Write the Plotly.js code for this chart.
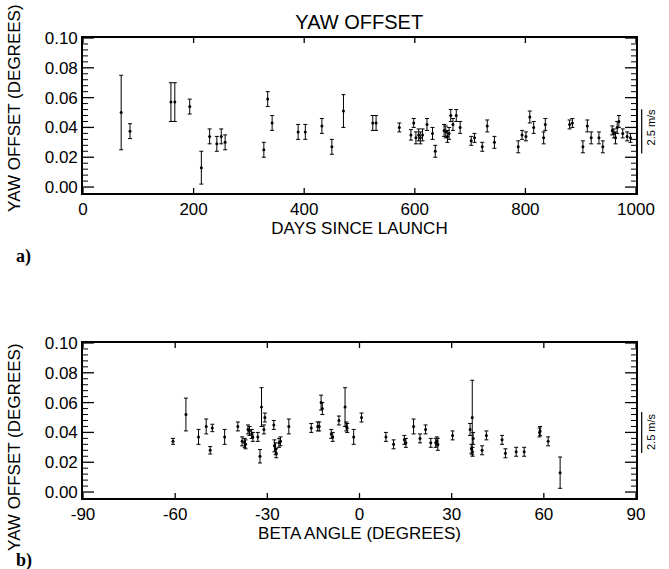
<!DOCTYPE html>
<html>
<head>
<meta charset="utf-8">
<script src="https://cdn.plot.ly/plotly-3.0.1.min.js"></script>
<style>html,body{margin:0;padding:0;background:#fff;}#chart{width:669px;height:569px;}</style>
</head>
<body>
<div id="chart"></div>
<script>
// Panel a) yaw offset vs days since launch
const daysA = [69,85,159,166,193,214,229,242,250,257,327,334,342,389,402,432,450,471,524,530,
  572,593,598,602,607,610,614,622,632,637,653,656,659,662,665,669,675,682,702,708,722,731,744,
  787,794,801,808,815,833,836,880,885,904,912,919,933,940,957,960,963,966,969,976,984,990];
const yawA = [0.050,0.0375,0.057,0.057,0.054,0.013,0.034,0.029,0.034,0.030,0.025,0.059,0.043,0.037,0.037,0.041,0.027,0.051,0.043,0.043,
  0.040,0.035,0.043,0.033,0.035,0.033,0.035,0.042,0.036,0.024,0.038,0.037,0.034,0.036,0.048,0.042,0.048,0.040,0.031,0.033,0.027,0.041,0.030,
  0.027,0.035,0.034,0.047,0.040,0.033,0.042,0.042,0.043,0.027,0.041,0.033,0.033,0.027,0.038,0.036,0.033,0.040,0.044,0.036,0.034,0.033];
const errA = [0.025,0.005,0.013,0.013,0.005,0.011,0.005,0.005,0.005,0.005,0.005,0.005,0.005,0.005,0.005,0.005,0.005,0.011,0.005,0.005,
  0.003,0.0035,0.003,0.004,0.004,0.004,0.004,0.004,0.004,0.004,0.004,0.004,0.004,0.004,0.004,0.004,0.004,0.004,0.003,0.003,0.003,0.004,0.004,
  0.004,0.003,0.003,0.004,0.004,0.004,0.004,0.003,0.003,0.004,0.004,0.004,0.004,0.004,0.003,0.003,0.004,0.004,0.004,0.003,0.003,0.003];

// Panel b) yaw offset vs beta angle
const betaB = [-60.7,-56.5,-52.4,-49.9,-48.6,-47.9,-43.9,-39.6,-38.2,-37.4,-37.1,-36.3,-35.8,-35.1,-34.7,-33.1,-32.4,-31.9,-31.1,-30.8,
  -27.9,-27.7,-27.3,-27.1,-26.2,-25.7,-23.0,-15.7,-13.6,-13.1,-12.5,-12.1,-9.2,-8.7,-6.7,-4.7,-4.3,-4.0,-1.9,0.65,
  8.6,11.1,14.6,15.1,17.6,19.7,21.5,23.2,24.8,25.2,25.5,30.3,36.0,36.4,36.7,36.8,37.0,39.9,41.3,46.4,47.5,51.0,53.6,58.6,58.8,61.4,65.3];
const yawB = [0.034,0.052,0.037,0.044,0.028,0.043,0.037,0.044,0.034,0.033,0.032,0.042,0.041,0.039,0.037,0.037,0.024,0.057,0.042,0.050,
  0.045,0.031,0.029,0.026,0.033,0.034,0.044,0.043,0.044,0.044,0.060,0.056,0.039,0.037,0.048,0.057,0.044,0.043,0.037,0.050,
  0.037,0.032,0.035,0.033,0.044,0.036,0.042,0.033,0.033,0.034,0.032,0.038,0.042,0.029,0.050,0.027,0.036,0.028,0.038,0.035,0.026,0.027,0.027,0.040,0.041,0.034,0.013];
const errB = [0.002,0.011,0.005,0.005,0.0025,0.0025,0.005,0.003,0.003,0.003,0.003,0.003,0.003,0.003,0.003,0.003,0.0045,0.013,0.003,0.003,
  0.003,0.004,0.004,0.003,0.003,0.003,0.005,0.003,0.003,0.003,0.005,0.004,0.003,0.003,0.003,0.013,0.003,0.003,0.005,0.003,
  0.003,0.003,0.003,0.003,0.005,0.003,0.003,0.003,0.003,0.003,0.004,0.003,0.004,0.003,0.025,0.003,0.004,0.003,0.003,0.003,0.003,0.003,0.003,0.003,0.003,0.003,0.0105];

// Tick values and labels
const yTickVals = [0, 0.02, 0.04, 0.06, 0.08, 0.10];
const yTickText = ['0.00','0.02','0.04','0.06','0.08','0.10'];
const xTicksA = [0, 200, 400, 600, 800, 1000];
const xTickTextA = ['0', '200', '400', '600', '800', '1000'];
const xTicksB = [-90, -60, -30, 0, 30, 60, 90];
const xTickTextB = ['-90', '-60', '-30', '0', '30', '60', '90'];

const FONT = 'Liberation Sans, Arial, sans-serif';
const errStyle = (arr) => ({type:'data', array: arr, visible:true, color:'#000', thickness:1, width:2});

const traces = [
  {x: daysA, y: yawA, type:'scatter', mode:'markers', xaxis:'x', yaxis:'y',
   marker:{color:'#000', size:3}, error_y: errStyle(errA), hoverinfo:'skip'},
  {x: betaB, y: yawB, type:'scatter', mode:'markers', xaxis:'x2', yaxis:'y2',
   marker:{color:'#000', size:3}, error_y: errStyle(errB), hoverinfo:'skip'}
];

const Y_RANGE = [-0.004, 0.1];
const X_RANGE_A = [0, 1000];
const X_RANGE_B = [-90, 90];

const yAxisBase = {
  range:Y_RANGE, tickmode:'array', tickvals:yTickVals, ticktext:yTickText, ticks:'',
  showline:true, linecolor:'#000', linewidth:1.6, mirror:true,
  showgrid:false, zeroline:false, tickfont:{family:FONT, size:17, color:'#000'}
};
const xAxisBase = {
  tickmode:'array', ticks:'',
  showline:true, linecolor:'#000', linewidth:1.6, mirror:true,
  showgrid:false, zeroline:false, tickfont:{family:FONT, size:17, color:'#000'}
};

// Inside tick marks on all four sides, placed in the axes' own data coordinates
const PLOT_W = 553, PLOT_H = 155;
const shapes = [];
function addTicks(xref, yref, xr, yr, xVals) {
  const xSpan = xr[1] - xr[0], ySpan = yr[1] - yr[0];
  for (let i = 0; i <= 25; i++) {
    const v = +(i * 0.004).toFixed(3);
    const isMajor = yTickVals.some(t => Math.abs(t - v) < 1e-9);
    const len = (isMajor ? 11 : 5) / PLOT_W * xSpan;
    const w = isMajor ? 1.3 : 1;
    shapes.push({type:'line', xref:xref, yref:yref, x0:xr[0], x1:xr[0] + len, y0:v, y1:v, line:{color:'#000', width:w}});
    shapes.push({type:'line', xref:xref, yref:yref, x0:xr[1] - len, x1:xr[1], y0:v, y1:v, line:{color:'#000', width:w}});
  }
  const xl = 5 / PLOT_H * ySpan;
  xVals.forEach(v => {
    shapes.push({type:'line', xref:xref, yref:yref, x0:v, x1:v, y0:yr[0], y1:yr[0] + xl, line:{color:'#000', width:1.3}});
    shapes.push({type:'line', xref:xref, yref:yref, x0:v, x1:v, y0:yr[1] - xl, y1:yr[1], line:{color:'#000', width:1.3}});
  });
}
addTicks('x', 'y', X_RANGE_A, Y_RANGE, xTicksA);
addTicks('x2', 'y2', X_RANGE_B, Y_RANGE, xTicksB);
// "2.5 m/s" scale bars
shapes.push({type:'line', xref:'paper', yref:'y', x0:1.0103, x1:1.0103, y0:0.0225, y1:0.0522, line:{color:'#000', width:1.2}});
shapes.push({type:'line', xref:'paper', yref:'y2', x0:1.0103, x1:1.0103, y0:0.0262, y1:0.0537, line:{color:'#000', width:1.2}});

const layout = {
  width:669, height:569,
  margin:{l:83, r:33, t:38, b:71},
  paper_bgcolor:'#fff', plot_bgcolor:'#fff', showlegend:false,
  font:{family:FONT, color:'#000'},
  title:{text:'YAW OFFSET', x:0.537, xanchor:'center', y:0.961, yanchor:'middle', yref:'container',
         font:{family:FONT, size:20, color:'#000'}},
  xaxis: Object.assign({}, xAxisBase, {anchor:'y', range:X_RANGE_A, tickvals:xTicksA, ticktext:xTickTextA,
    title:{text:'DAYS SINCE LAUNCH', standoff:4, font:{family:FONT, size:17, color:'#000'}}}),
  yaxis: Object.assign({}, yAxisBase, {anchor:'x', domain:[0.663, 1]}),
  xaxis2: Object.assign({}, xAxisBase, {anchor:'y2', range:X_RANGE_B, tickvals:xTicksB, ticktext:xTickTextB,
    title:{text:'BETA ANGLE (DEGREES)', standoff:4, font:{family:FONT, size:17, color:'#000'}}}),
  yaxis2: Object.assign({}, yAxisBase, {anchor:'x2', domain:[0, 0.337]}),
  shapes: shapes,
  annotations:[
    {text:'2.5 m/s', xref:'paper', yref:'y', x:1.027, y:0.0406, showarrow:false, textangle:-90,
     font:{family:FONT, size:11, color:'#000'}, xanchor:'center', yanchor:'middle'},
    {text:'2.5 m/s', xref:'paper', yref:'y2', x:1.027, y:0.0409, showarrow:false, textangle:-90,
     font:{family:FONT, size:11, color:'#000'}, xanchor:'center', yanchor:'middle'},
    {text:'YAW OFFSET (DEGREES)', xref:'paper', yref:'paper', x:-0.123, y:0.848, showarrow:false, textangle:-90,
     font:{family:FONT, size:17, color:'#000'}, xanchor:'center', yanchor:'middle'},
    {text:'YAW OFFSET (DEGREES)', xref:'paper', yref:'paper', x:-0.123, y:0.111, showarrow:false, textangle:-90,
     font:{family:FONT, size:17, color:'#000'}, xanchor:'center', yanchor:'middle'},
    {text:'<b>a)</b>', xref:'paper', yref:'paper', x:-0.1067, y:0.526, showarrow:false,
     font:{family:'Liberation Serif, Times New Roman, serif', size:18, color:'#000'}, xanchor:'center', yanchor:'middle'},
    {text:'<b>b)</b>', xref:'paper', yref:'paper', x:-0.1067, y:-0.135, showarrow:false,
     font:{family:'Liberation Serif, Times New Roman, serif', size:18, color:'#000'}, xanchor:'center', yanchor:'middle'}
  ]
};

Plotly.newPlot('chart', traces, layout, {displayModeBar:false});
</script>
</body>
</html>
